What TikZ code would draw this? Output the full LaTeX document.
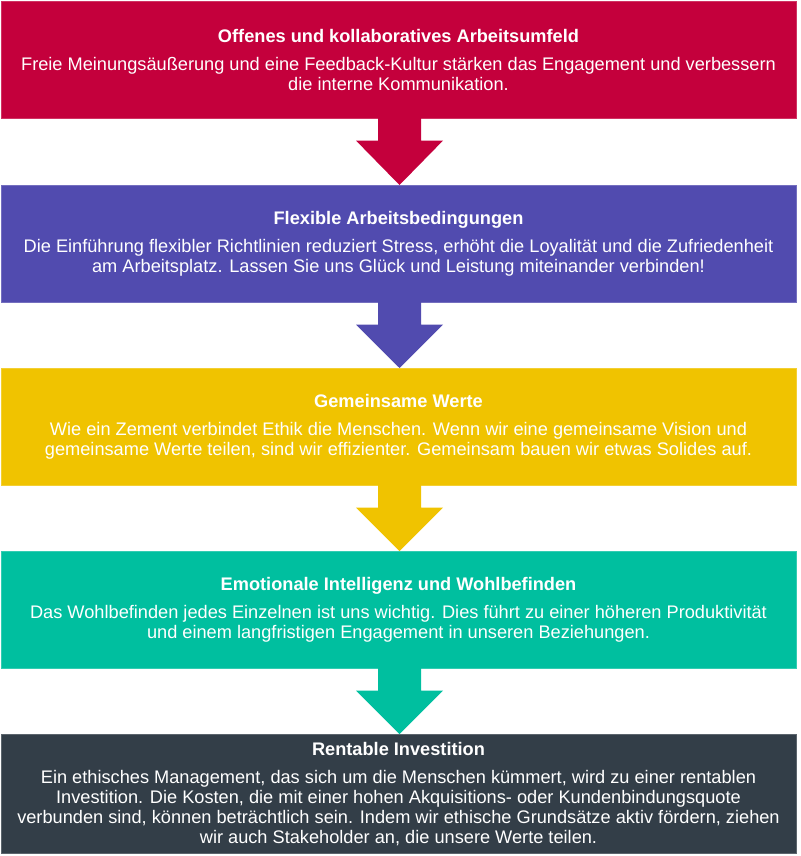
\documentclass[tikz,border=0pt]{standalone}
\usepackage{fontspec}
\setmainfont{Liberation Sans}
\usetikzlibrary{calc}
\definecolor{cred}{HTML}{C4003C}
\definecolor{cpurple}{HTML}{514BAF}
\definecolor{cyellow}{HTML}{F0C300}
\definecolor{cteal}{HTML}{00BF9F}
\definecolor{cdark}{HTML}{333E48}
\tikzset{
  panel/.style={fill=#1, draw=#1!80!white, line width=0.6pt, text=white,
    minimum width=795pt, minimum height=117pt, inner sep=0pt, anchor=north,
    align=center, font=\fontsize{18.2}{20}\selectfont},
  downarrow/.style={fill=#1, draw=none}
}
\newcommand{\ttl}[1]{\textbf{#1}\\[8pt]}
\begin{document}
\begin{tikzpicture}[x=1pt,y=-1pt]
\useasboundingbox (0,0) rectangle (800,856);
\node[panel=cred] (b1) at (398.5,1) {\ttl{Offenes und kollaboratives Arbeitsumfeld}
Freie Meinungsäußerung und eine Feedback-Kultur stärken das Engagement und verbessern\\
die interne Kommunikation.};
\node[panel=cpurple] (b2) at (398.5,185) {\ttl{Flexible Arbeitsbedingungen}
Die Einführung flexibler Richtlinien reduziert Stress, erhöht die Loyalität und die Zufriedenheit\\
am Arbeitsplatz. Lassen Sie uns Glück und Leistung miteinander verbinden!};
\node[panel=cyellow] (b3) at (398.5,368) {\ttl{Gemeinsame Werte}
Wie ein Zement verbindet Ethik die Menschen. Wenn wir eine gemeinsame Vision und\\
gemeinsame Werte teilen, sind wir effizienter. Gemeinsam bauen wir etwas Solides auf.};
\node[panel=cteal] (b4) at (398.5,551) {\ttl{Emotionale Intelligenz und Wohlbefinden}
Das Wohlbefinden jedes Einzelnen ist uns wichtig. Dies führt zu einer höheren Produktivität\\
und einem langfristigen Engagement in unseren Beziehungen.};
\node[panel=cdark, minimum height=119pt] (b5) at (398.5,734) {\ttl{Rentable Investition}
Ein ethisches Management, das sich um die Menschen kümmert, wird zu einer rentablen\\
Investition. Die Kosten, die mit einer hohen Akquisitions- oder Kundenbindungsquote\\
verbunden sind, können beträchtlich sein. Indem wir ethische Grundsätze aktiv fördern, ziehen\\
wir auch Stakeholder an, die unsere Werte teilen.};
\foreach \a/\b/\c in {b1/b2/cred, b2/b3/cpurple, b3/b4/cyellow, b4/b5/cteal}{
  \fill[downarrow=\c]
    ($(\a.south)+(-20.5,-0.5)$) -- ($(\a.south)+(22.5,-0.5)$)
    -- ($(\a.south)+(22.5,22)$) -- ($(\a.south)+(44.5,22)$)
    -- ($(\b.north)+(1,0)$)
    -- ($(\a.south)+(-42.5,22)$) -- ($(\a.south)+(-20.5,22)$) -- cycle;
}
\end{tikzpicture}
\end{document}
